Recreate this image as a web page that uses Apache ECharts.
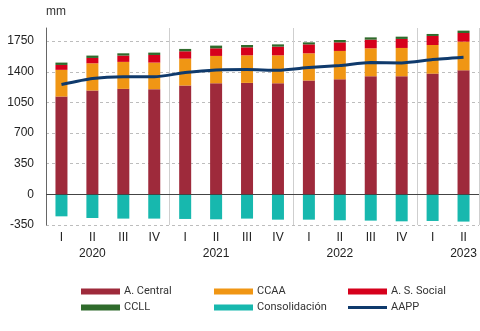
<!DOCTYPE html>
<html><head><meta charset="utf-8">
<script src="https://cdn.jsdelivr.net/npm/echarts@6/dist/echarts.min.js"></script>
<style>html,body{margin:0;padding:0;background:#fff}#c{width:480px;height:331px}</style>
</head><body><div id="c"></div>
<script>
var quarters = ['I','II','III','IV','I','II','III','IV','I','II','III','IV','I','II'];
var yearLabels = ['', '2020', '', '', '', '2021', '', '', '', '2022', '', '', '', '2023'];
var aCentral = [1117,1186,1205,1201,1243,1269,1273,1269,1300,1314,1349,1349,1379,1417];
var ccaa = [305,311,308,304,307,312,315,319,311,324,319,323,327,327];
var asSocial = [56,61,72,87,84,87,91,99,102,98,99,103,103,99];
var ccll = [27,27,26,27,27,31,27,26,23,27,26,26,23,27];
var consol = [-251,-270,-277,-277,-281,-285,-277,-289,-289,-296,-300,-308,-304,-311];
var aapp = [1254,1322,1342,1342,1391,1421,1425,1417,1448,1471,1505,1501,1539,1565];
var yMin = -350, yMax = 1900, yStep = 350;

var chart = echarts.init(document.getElementById('c'), null, {renderer:'canvas'});
var sans = "'Liberation Sans', Arial, Helvetica, sans-serif";
var legendCommon = {
  orient: 'vertical', itemWidth: 39, itemHeight: 6, itemGap: 5,
  textStyle: {fontFamily: "'Liberation Sans Narrow','Arial Narrow',Roboto,sans-serif", fontSize: 11, color: '#333', padding:[0,0,0,-1]},
  top: 281
};
function bar(name, data, color){
  return {name: name, type: 'bar', stack: 'a', data: data, barWidth: 12,
    itemStyle: {color: color}, emphasis: {disabled: true}};
}
var option = {
  animation: false,
  grid: {left: 46, right: 1, top: 28, bottom: 106},
  legend: [
    Object.assign({}, legendCommon, {left: 76, data: [{name:'A. Central', icon:'rect'}, {name:'CCLL', icon:'rect'}]}),
    Object.assign({}, legendCommon, {left: 209, data: [{name:'CCAA', icon:'rect'}, {name:'Consolidación', icon:'rect'}]}),
    Object.assign({}, legendCommon, {left: 343, data: [{name:'A. S. Social', icon:'rect'}, {name:'AAPP', icon:'path://M0,0H40V3H0Z'}]})
  ],
  xAxis: {
    type: 'category', data: quarters,
    axisLine: {show: false, onZero: false}, axisTick: {show: false},
    axisLabel: {
      interval: 0, margin: 5, color: '#222', fontSize: 12, lineHeight: 16,
      fontFamily: sans,
      formatter: function(v, i){ return yearLabels[i] ? v + '\n' + yearLabels[i] : v; }
    },
    splitLine: {show: true, interval: function(i){ return i > 0 && quarters[i] === 'I'; },
      lineStyle: {color: '#cfcfcf', width: 1}}
  },
  yAxis: {
    type: 'value', min: yMin, max: yMax, interval: yStep,
    name: 'mm', nameLocation: 'end', nameGap: 10,
    nameTextStyle: {align: 'left', color: '#333', fontSize: 12, fontFamily: sans},
    axisLine: {show: true, lineStyle: {color: '#666', width: 1}},
    axisTick: {show: false},
    axisLabel: {showMaxLabel: false, margin: 12, color: '#222', fontSize: 12, fontFamily: sans,
      formatter: function(v){ return String(v); }},
    splitLine: {show: true, showMaxLine: false, showMinLine: true,
      lineStyle: {color: '#bdbdbd', type: [3, 3], width: 1}}
  },
  series: [
    bar('A. Central', aCentral, '#9e2a3b'),
    bar('CCAA', ccaa, '#f09614'),
    bar('A. S. Social', asSocial, '#d6001c'),
    bar('CCLL', ccll, '#2f6b2c'),
    Object.assign(bar('Consolidación', consol, '#17b8ae'), {
      markLine: {silent: true, symbol: 'none', label: {show: false},
        lineStyle: {color: '#444', type: 'solid', width: 1}, data: [{yAxis: 0}]}
    }),
    {name: 'AAPP', type: 'line', data: aapp, smooth: 0.2, showSymbol: false, symbol: 'none',
      lineStyle: {color: '#0f3a6c', width: 3}, itemStyle: {color: '#0f3a6c'}, emphasis: {disabled: true}, z: 5}
  ]
};
chart.setOption(option);
</script></body></html>
